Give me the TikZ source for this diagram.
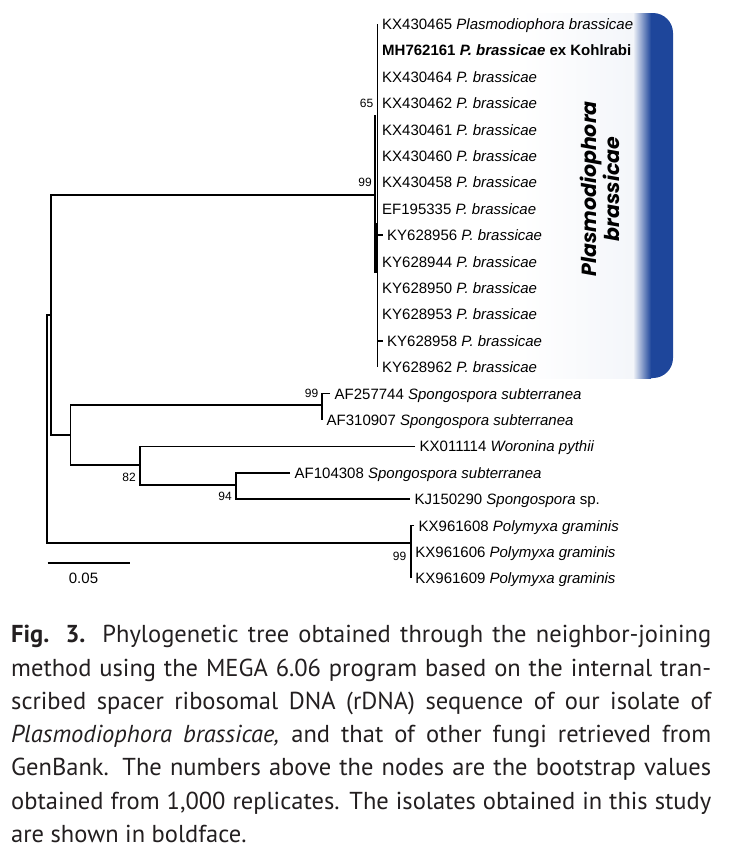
\documentclass[tikz,border=0pt]{standalone}
\usepackage{fontspec}
\setmainfont{Liberation Sans}
\newfontfamily\capfont{PT Sans}
\newfontfamily\cladefont{Poppins}
\usetikzlibrary{shadings}

\definecolor{cladeblue}{RGB}{30,70,155}
\definecolor{captext}{RGB}{35,31,32}
\newcommand{\taxon}[2]{#1~\textit{#2}}

\begin{document}
\begin{tikzpicture}[x=1pt, y=-1pt,
    branch/.style={line width=1.7pt},
    tip/.style={anchor=base west, inner sep=0pt, xshift=4.5pt, yshift=-5.5pt, font=\fontsize{15}{18}\selectfont},
    boot/.style={anchor=base east, inner sep=0pt, font=\fontsize{12}{14}\selectfont}]

    \useasboundingbox (0,0) rectangle (731,852);

    % Clade bar
    \fill[cladeblue, rounded corners=20pt] (580,13) rectangle (673,378);
    \shade[left color=white, right color=cladeblue!5] (520,13) rectangle (633.5,378);
    \shade[left color=cladeblue!5, right color=cladeblue] (633,13) rectangle (651,378);
    \node[rotate=90, align=center, inner sep=0pt, font=\cladefont\bfseries\itshape\fontsize{20.5}{20.5}\selectfont] (cladename) at (600,189) {Plasmodiophora\\brassicae};

    % Internal nodes
    \coordinate (root) at (46.7,430);
    \coordinate (nA) at (51,315);
    \coordinate (nP) at (375,194.7);
    \coordinate (nB) at (70.5,435);
    \coordinate (nS) at (322,405);
    \coordinate (nC) at (140,465);
    \coordinate (nD) at (236,485);
    \coordinate (nM) at (410.7,543);

    % Tips
    \coordinate (kx430465) at (377.5,24.0);
    \coordinate (mh762161) at (377.5,50.4);
    \coordinate (kx430464) at (377.5,76.8);
    \coordinate (kx430462) at (377.5,103.2);
    \coordinate (kx430461) at (377.5,129.6);
    \coordinate (kx430460) at (377.5,156.0);
    \coordinate (kx430458) at (377.5,182.4);
    \coordinate (ef195335) at (377.5,208.8);
    \coordinate (ky628956) at (382.5,235.2);
    \coordinate (ky628944) at (377.5,261.6);
    \coordinate (ky628950) at (377.5,288.0);
    \coordinate (ky628953) at (377.5,314.4);
    \coordinate (ky628958) at (382.5,340.8);
    \coordinate (ky628962) at (377.5,367.2);
    \coordinate (af257744) at (330,393.6);
    \coordinate (af310907) at (322,420.0);
    \coordinate (kx011114) at (415,446.4);
    \coordinate (af104308) at (290,472.8);
    \coordinate (kj150290) at (410,499.2);
    \coordinate (kx961608) at (414,525.6);
    \coordinate (kx961606) at (410.7,552.0);
    \coordinate (kx961609) at (410.7,578.4);

    % Plasmodiophora clade
    \coordinate (pb-in-top) at (375,115);
    \coordinate (pb-in-bot) at (375,273);
    \coordinate (pb-pair-top) at (376.3,223);
    \draw[branch] (kx430465) -- (ky628962);
    \draw[branch] (pb-in-top) -- (pb-in-bot);
    \draw[branch] (pb-pair-top) -- (pb-in-bot -| pb-pair-top);
    \draw[branch] (ky628956 -| kx430465) -- (ky628956);
    \draw[branch] (ky628958 -| kx430465) -- (ky628958);

    % Backbone
    \draw[branch] (nP) -| (nA) |- (nB);
    \draw[branch] (nA) -| (root) |- (nM);
    \draw[branch] (nS) -| (nB) |- (nC);
    \draw[branch] (af257744) -| (nS) |- (af310907);
    \draw[branch] (kx011114) -| (nC) |- (nD);
    \draw[branch] (af104308) -| (nD) |- (kj150290);
    \draw[branch] (kx961608) -| (nM) |- (kx961609);

    % Labels
    \node[tip] (l1) at (kx430465) {\taxon{KX430465}{Plasmodiophora brassicae}};
    \node[tip] (l2) at (mh762161) {\textbf{MH762161 \textit{P. brassicae} ex Kohlrabi}};
    \node[tip] (l3) at (kx430464) {\taxon{KX430464}{P. brassicae}};
    \node[tip] (l4) at (kx430462) {\taxon{KX430462}{P. brassicae}};
    \node[tip] (l5) at (kx430461) {\taxon{KX430461}{P. brassicae}};
    \node[tip] (l6) at (kx430460) {\taxon{KX430460}{P. brassicae}};
    \node[tip] (l7) at (kx430458) {\taxon{KX430458}{P. brassicae}};
    \node[tip] (l8) at (ef195335) {\taxon{EF195335}{P. brassicae}};
    \node[tip] (l9) at (ky628956) {\taxon{KY628956}{P. brassicae}};
    \node[tip] (l10) at (ky628944) {\taxon{KY628944}{P. brassicae}};
    \node[tip] (l11) at (ky628950) {\taxon{KY628950}{P. brassicae}};
    \node[tip] (l12) at (ky628953) {\taxon{KY628953}{P. brassicae}};
    \node[tip] (l13) at (ky628958) {\taxon{KY628958}{P. brassicae}};
    \node[tip] (l14) at (ky628962) {\taxon{KY628962}{P. brassicae}};
    \node[tip] (l15) at (af257744) {\taxon{AF257744}{Spongospora subterranea}};
    \node[tip] (l16) at (af310907) {\taxon{AF310907}{Spongospora subterranea}};
    \node[tip] (l17) at (kx011114) {\taxon{KX011114}{Woronina pythii}};
    \node[tip] (l18) at (af104308) {\taxon{AF104308}{Spongospora subterranea}};
    \node[tip] (l19) at (kj150290) {\taxon{KJ150290}{Spongospora} sp.};
    \node[tip] (l20) at (kx961608) {\taxon{KX961608}{Polymyxa graminis}};
    \node[tip] (l21) at (kx961606) {\taxon{KX961606}{Polymyxa graminis}};
    \node[tip] (l22) at (kx961609) {\taxon{KX961609}{Polymyxa graminis}};

    % Bootstrap values
    \node[boot] (b65) at (373.5,107.5) {65};
    \node[boot] (b99p) at (372,186.3) {99};
    \node[boot] (b99s) at (318.5,397.3) {99};
    \node[boot] (b82) at (136,481.6) {82};
    \node[boot] (b94) at (232,500.3) {94};
    \node[boot] (b99m) at (406.5,560) {99};

    % Scale bar
    \coordinate (sb-l) at (47.7,562.7);
    \coordinate (sb-r) at (130,562.7);
    \draw[branch] (sb-l) -- (sb-r);
    \node[anchor=base, inner sep=0pt, font=\fontsize{15}{18}\selectfont] (sb-text) at (83.5,583.5) {0.05};

    % Caption
    \node[anchor=base west, inner sep=0pt, text=captext] (caption) at (11,642.7) {\parbox[t]{700pt}{\capfont\fontsize{24.5}{33.3}\selectfont\hyphenpenalty=10000\tolerance=9999\emergencystretch=20pt
      \textbf{Fig. 3.} Phylogenetic tree obtained through the neighbor-joining\linebreak
      method using the MEGA 6.06 program based on the internal tran-\linebreak
      scribed spacer ribosomal DNA (rDNA) sequence of our isolate of\linebreak
      \textit{Plasmodiophora brassicae,} and that of other fungi retrieved from\linebreak
      GenBank. The numbers above the nodes are the bootstrap values\linebreak
      obtained from 1,000 replicates. The isolates obtained in this study\linebreak
      are shown in boldface.}};
\end{tikzpicture}
\end{document}
